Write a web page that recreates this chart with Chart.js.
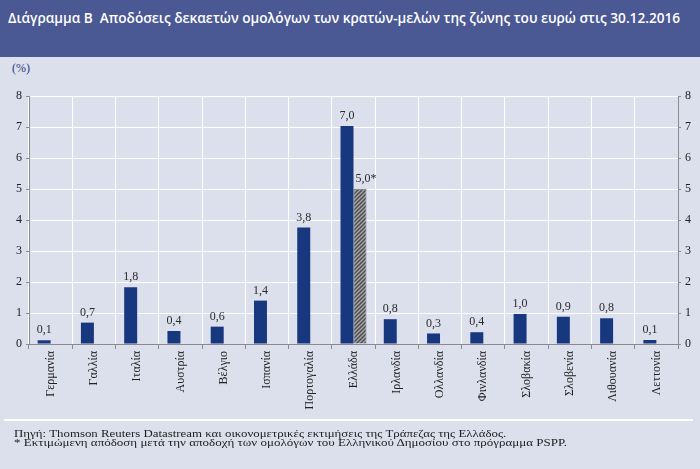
<!DOCTYPE html>
<html>
<head>
<meta charset="utf-8">
<script src="https://cdn.jsdelivr.net/npm/chart.js@4"></script>
<style>
    html, body { margin: 0; padding: 0; }
    body { width: 700px; height: 469px; background: #dcdfec; position: relative; overflow: hidden; }
    #head { position: absolute; left: 0; top: 0; width: 700px; height: 57px; background: #4a5894; }
    #title { position: absolute; left: 8px; top: 8px; color: #fff; font-family: "Open Sans", sans-serif; font-weight: 600; font-size: 14px; white-space: nowrap; transform-origin: left top; }
    #unit { position: absolute; left: 12px; top: 61px; font-family: "Liberation Serif", serif; font-size: 12px; color: #2a3a80; }
    #wrap { position: absolute; left: 0; top: 60px; width: 700px; height: 360px; }
    #sep { position: absolute; left: 4px; top: 419px; width: 689px; height: 2px; background: #fff; }
    .note { position: absolute; left: 14px; font-family: "Liberation Serif", serif; font-size: 11px; line-height: 11px; color: #222; white-space: nowrap; transform-origin: left top; }
</style>
</head>
<body>
<div id="head"><span id="title">Διάγραμμα Β&nbsp; Αποδόσεις δεκαετών ομολόγων των κρατών-μελών της ζώνης του ευρώ στις 30.12.2016</span></div>
<div id="unit">(%)</div>
<div id="wrap"><canvas id="myChart"></canvas></div>
<div id="sep"></div>
<div class="note" id="n1" style="top:428px">Πηγή: Thomson Reuters Datastream και οικονομετρικές εκτιμήσεις της Τράπεζας της Ελλάδος.</div>
<div class="note" id="n2" style="top:437px">* Εκτιμώμενη απόδοση μετά την αποδοχή των ομολόγων του Ελληνικού Δημοσίου στο πρόγραμμα PSPP.</div>
<script>
const countries = ["Γερμανία", "Γαλλία", "Ιταλία", "Αυστρία", "Βέλγιο", "Ισπανία", "Πορτογαλία", "Ελλάδα",
    "Ιρλανδία", "Ολλανδία", "Φινλανδία", "Σλοβακία", "Σλοβενία", "Λιθουανία", "Λεττονία"];
const yields = [0.12, 0.69, 1.83, 0.42, 0.56, 1.4, 3.76, 7.03, 0.8, 0.34, 0.38, 0.97, 0.88, 0.83, 0.13];
const estimated = [null, null, null, null, null, null, null, 5.0, null, null, null, null, null, null, null];
const yTicks = [0, 1, 2, 3, 4, 5, 6, 7, 8];

// stretch header / notes to the widths in the original
function fitWidth(id, w) {
    var el = document.getElementById(id);
    el.style.transform = 'scaleX(' + (w / el.offsetWidth) + ')';
}
fitWidth('title', 672);
fitWidth('n1', 492);
fitWidth('n2', 553);

function hatch() {
    var c = document.createElement('canvas');
    c.width = 4; c.height = 4;
    var g = c.getContext('2d');
    g.fillStyle = '#a4a4a8';
    g.fillRect(0, 0, 4, 4);
    g.strokeStyle = '#4a4a4e';
    g.lineWidth = 1.3;
    g.beginPath();
    g.moveTo(0, 4); g.lineTo(4, 0);
    g.moveTo(-1, 1); g.lineTo(1, -1);
    g.moveTo(3, 5); g.lineTo(5, 3);
    g.stroke();
    return document.getElementById('myChart').getContext('2d').createPattern(c, 'repeat');
}

const valueLabels = {
    id: 'valueLabels',
    afterDatasetsDraw(chart) {
        var ctx = chart.ctx;
        ctx.save();
        ctx.font = '12px "Liberation Serif", serif';
        ctx.fillStyle = '#2b2b2b';
        ctx.textBaseline = 'bottom';
        chart.data.datasets.forEach(function(ds, i) {
            chart.getDatasetMeta(i).data.forEach(function(bar, j) {
                var v = ds.data[j];
                if (v == null) return;
                var txt = v.toFixed(1).replace('.', ',');
                var w = ctx.measureText(txt).width;
                ctx.textAlign = 'left';
                ctx.fillText(txt + (i === 1 ? '*' : ''), bar.x - w / 2 + (i === 1 ? 3 : 0), bar.y - 4);
            });
        });
        ctx.restore();
    }
};

const serif = { family: '"Liberation Serif", serif', size: 12 };

new Chart(document.getElementById('myChart'), {
    type: 'bar',
    data: {
        labels: countries,
        datasets: [{
            label: 'Απόδοση',
            data: yields,
            backgroundColor: '#17377f',
            categoryPercentage: 0.6,
            barPercentage: 1.0
        }, {
            label: 'Εκτιμώμενη απόδοση',
            data: estimated,
            backgroundColor: hatch(),
            borderColor: '#6a6a6e',
            borderWidth: 0.8,
            categoryPercentage: 0.6,
            barPercentage: 1.0
        }]
    },
    options: {
        responsive: true,
        maintainAspectRatio: false,
        animation: false,
        layout: { padding: { top: 36, left: 0, right: 0, bottom: 0 } },
        plugins: { legend: { display: false }, tooltip: { enabled: false } },
        scales: {
            x: {
                grid: { color: '#ffffff', lineWidth: 1, tickColor: '#8a8a90', tickLength: 5, offset: true },
                border: { color: '#8a8a90' },
                ticks: { font: serif, color: '#222', maxRotation: 90, minRotation: 90, padding: 2 },
                afterFit: function(s) { s.height = 76; }
            },
            y: {
                min: 0, max: 8,
                afterBuildTicks: function(s) { s.ticks = yTicks.map(v => ({ value: v })); },
                grid: { color: '#ffffff', lineWidth: 1, tickColor: '#8a8a90', tickLength: 3 },
                border: { color: '#8a8a90' },
                ticks: { font: serif, color: '#222', padding: 4 },
                afterFit: function(s) { s.width = 29; }
            },
            y2: {
                position: 'right',
                min: 0, max: 8,
                afterBuildTicks: function(s) { s.ticks = yTicks.map(v => ({ value: v })); },
                grid: { drawOnChartArea: false, tickColor: '#8a8a90', tickLength: 3 },
                border: { color: '#8a8a90' },
                ticks: { font: serif, color: '#222', padding: 4 },
                afterFit: function(s) { s.width = 22; }
            }
        }
    },
    plugins: [valueLabels]
});
</script>
</body>
</html>
